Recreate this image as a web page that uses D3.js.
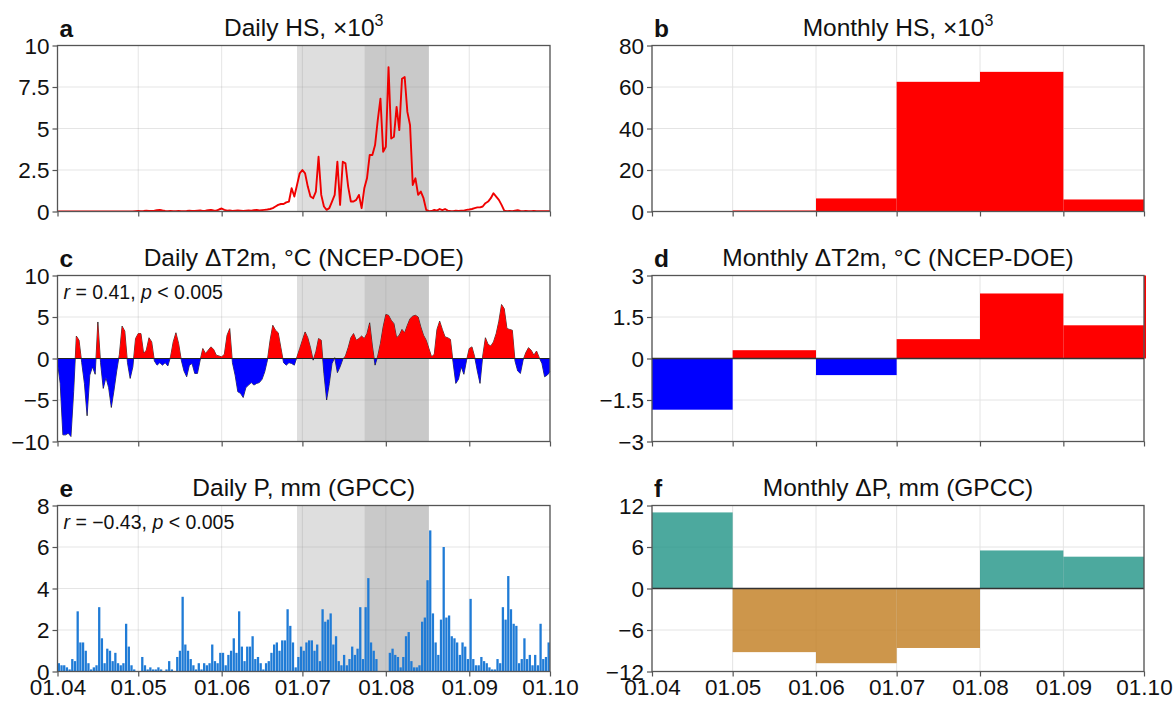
<!DOCTYPE html>
<html>
<head>
<meta charset="utf-8">
<script src="https://cdn.jsdelivr.net/npm/d3@7"></script>
<style>
  html, body { margin: 0; padding: 0; background: #fff; }
  svg { display: block; font-family: "Liberation Sans", Arial, Helvetica, sans-serif; }
</style>
</head>
<body>
<svg id="chart" width="1174" height="702"></svg>
<script>
// ---------------- DATA ----------------
const monthStarts = ["2021-04-01","2021-05-01","2021-06-01","2021-07-01","2021-08-01","2021-09-01","2021-10-01","2021-11-01"];
const monthTickLabels = ["01.04","01.05","01.06","01.07","01.08","01.09","01.10"];
const dailyStart = "2021-04-01";
const shadeLight = ["2021-06-29","2021-07-24"];
const shadeDark = ["2021-07-24","2021-08-17"];

// Daily HS (x10^3), from 1 Apr
const dailyHS = [
 0,0,0,0,0,0,0,0,0,0,
 0,0,0,0,0,0,0,0,0,0,
 0,0,0,0,0,0,0,0,0,0.02,
 0.03,0.02,0.03,0.05,0.04,0.03,0.05,0.08,0.1,0.06,
 0.03,0.02,0.03,0.02,0.02,0.03,0.02,0.02,0.03,0.05,
 0.04,0.03,0.05,0.06,0.04,0.05,0.08,0.1,0.06,0.05,
 0.12,0.18,0.1,0.05,0.06,0.04,0.05,0.06,0.05,0.04,
 0.05,0.06,0.05,0.08,0.1,0.06,0.08,0.1,0.12,0.15,
 0.2,0.3,0.4,0.45,0.45,0.55,0.6,1.4,0.9,1.6,
 2.3,2.5,2.3,1.5,0.9,0.8,1.2,3.3,1.0,0.3,
 0.1,0.2,0.6,1.0,3.0,0.4,3.0,2.9,1.5,0.6,
 0.6,0.7,1.0,0.2,1.4,2.0,3.4,3.4,4.0,5.5,
 6.8,3.6,3.9,8.7,4.4,4.5,6.3,4.9,8.0,8.1,
 6.0,5.2,1.6,2.0,1.0,1.2,0.8,0.1,0.02,0.03,
 0.1,0.05,0.15,0.08,0.15,0.05,0.03,0.02,0.05,0.03,
 0.05,0.05,0.1,0.12,0.15,0.2,0.25,0.25,0.3,0.5,
 0.6,0.8,1.1,0.9,0.7,0.4,0.05,0.02,0.03,0.02,
 0.05,0.08,0.04,0.02,0.03,0.02,0.02,0.03,0.02,0.02,
 0.02,0.02,0.02,0.02
];

// Daily ΔT2m, °C
const dailyT = [
 -0.5,-3,-9.2,-9.2,-9.0,-9.4,-4,2.7,2.2,-0.5,
 -3,-6.9,-2,-1.0,-1.9,4.4,-0.5,-3.6,-2.3,-3.5,
 -5.9,-3.8,-1.5,0.5,3.9,3.3,-0.5,-2.4,-1.0,2.4,
 3.0,3.0,0.6,1.0,2.5,2.0,-0.3,-0.8,-0.5,-0.8,
 -0.5,-0.9,0.2,2.0,3.1,1.8,-0.2,-1.5,-2.2,-0.8,
 -0.6,-1.8,-1.8,-0.2,1.2,0.6,1.0,1.4,1.1,0.4,
 0.3,0.2,0.5,2.8,3.6,-0.5,-2.0,-4.0,-4.2,-4.7,
 -3.5,-3.2,-2.9,-3.2,-3.0,-2.9,-2.5,-1.6,-0.2,2.2,
 4.0,3.4,3.1,1.3,-0.5,-0.8,-0.5,-0.6,-0.8,0.2,
 1.2,2.2,3.2,2.5,1.3,-0.2,0.8,2.4,2.2,-1.8,
 -5.0,-3.0,-0.6,0.1,-1.7,-1.0,-0.1,0.3,1.3,2.5,
 3.0,2.2,2.4,2.7,2.4,3.0,4.3,1.5,-0.8,0.3,
 1.8,3.8,5.3,5.2,4.6,4.2,2.5,2.8,3.5,3.1,
 4.0,4.8,5.1,5.2,5.0,3.8,2.8,2.2,1.2,0.2,
 0.5,3.5,4.5,3.5,2.6,2.5,2.3,-0.5,-3.0,-2.5,
 -1.0,-1.9,-0.2,1.2,1.4,0.2,-1.5,-3.0,0.3,2.5,
 1.7,1.5,2.0,3.0,4.5,6.5,6.0,3.6,3.5,3.4,
 -0.3,-1.5,-1.8,-0.2,0.7,1.3,1.0,0.4,0.9,0.1,
 -0.6,-2.2,-2.0,-1.6
];

// Daily P, mm
const dailyP = [
 0.4,0.3,0.3,0.2,0.1,0.6,0.5,2.9,1.4,1.4,
 1.0,0.4,0.1,0.2,0.3,3.1,1.6,0.4,1.1,1.0,
 0.5,0.9,0.4,0.3,0.4,2.3,1.2,0.3,0.1,0.0,
 0.0,0.7,0.3,0.1,0.2,0.1,0.1,0.2,0.1,0.0,
 0.1,0.5,0.1,0.0,0.7,1.0,3.6,1.3,1.0,0.6,
 0.3,0.1,0.4,0.1,0.4,0.3,0.4,1.3,0.5,0.4,
 0.9,0.9,0.3,0.8,1.0,1.6,0.9,2.9,1.2,0.5,
 1.2,1.2,1.7,0.6,0.7,0.4,0.1,0.4,0.5,0.9,
 1.3,1.4,1.0,1.5,1.5,3.0,2.2,1.4,0.2,0.7,
 1.2,1.0,1.4,1.5,1.5,1.0,1.3,0.5,3.0,2.4,
 2.5,2.8,1.3,1.7,0.5,0.3,0.8,0.3,0.6,1.2,
 0.8,1.1,3.1,0.6,3.1,4.5,1.4,1.0,0.6,0.0,
 0.0,0.0,0.0,0.9,1.1,0.8,0.7,0.2,0.7,1.7,
 1.9,0.5,0.2,0.2,0.3,2.4,2.6,4.4,6.8,2.8,
 1.4,0.8,2.5,6.0,2.6,2.7,1.7,1.6,1.4,0.8,
 1.4,1.2,0.6,3.5,0.6,0.3,0.3,0.7,0.5,0.4,
 0.2,0.1,0.1,0.6,0.4,3.1,2.5,4.6,3.0,2.3,
 2.2,0.4,0.6,1.6,0.6,0.8,0.3,0.8,0.3,2.3,
 0.6,0.7,1.4
];

// Monthly values (Apr..Sep; T includes an Oct value clipped at the edge)
const monthlyHS = [0, 0.5, 6.3, 62.5, 67.3, 5.8];
const monthlyT = [-1.85, 0.3, -0.6, 0.7, 2.35, 1.2, 3.5];
const monthlyP = [11.0, -9.2, -10.8, -8.6, 5.5, 4.6];

// y-axis tick values
const ticksHS = [0, 2.5, 5, 7.5, 10];
const ticksT = [-10, -5, 0, 5, 10];
const ticksP = [0, 2, 4, 6, 8];
const ticksMHS = [0, 20, 40, 60, 80];
const ticksMT = [-3, -1.5, 0, 1.5, 3];
const ticksMP = [-12, -6, 0, 6, 12];

// ---------------- LAYOUT ----------------
const svg = d3.select("#chart");
const parse = d3.utcParse("%Y-%m-%d");
const mDates = monthStarts.map(parse);
const d0 = parse(dailyStart);
const dayDate = i => d3.utcDay.offset(d0, i);

const colL = {x: 57.5, w: 492.5};
const colR = {x: 652, w: 492};
const rows = [45.5, 275.5, 505.5];
const H = 166;
const FONT_TICK = 22.5, FONT_TITLE = 24.5;
const frameColor = "#555", gridColor = "#e4e4e4";

let clipId = 0;
function makePanel(col, top, yDomain, yTicks, letter, titleFn, showXLabels, shading) {
  const g = svg.append("g");
  const x = d3.scaleUtc().domain([mDates[0], mDates[6]]).range([col.x, col.x + col.w]);
  const y = d3.scaleLinear().domain(yDomain).range([top + H, top]);
  const id = "clip" + (clipId++);
  svg.append("clipPath").attr("id", id).append("rect")
    .attr("x", col.x).attr("y", top).attr("width", col.w + 2).attr("height", H);

  if (shading) {
    g.append("rect").attr("x", x(parse(shadeLight[0]))).attr("y", top)
      .attr("width", x(parse(shadeLight[1])) - x(parse(shadeLight[0]))).attr("height", H)
      .attr("fill", "#dedede");
    g.append("rect").attr("x", x(parse(shadeDark[0]))).attr("y", top)
      .attr("width", x(parse(shadeDark[1])) - x(parse(shadeDark[0]))).attr("height", H)
      .attr("fill", "#c9c9c9");
  }
  const grid = g.append("g").attr("stroke", gridColor).attr("stroke-width", 1);
  yTicks.forEach(t => grid.append("line").attr("x1", col.x).attr("x2", col.x + col.w)
    .attr("y1", y(t)).attr("y2", y(t)));
  mDates.slice(0, 7).forEach(d => grid.append("line").attr("x1", x(d)).attr("x2", x(d))
    .attr("y1", top).attr("y2", top + H));
  if (shading) grid.selectAll("line").attr("stroke", "rgba(150,150,150,0.25)");

  const content = g.append("g").attr("clip-path", `url(#${id})`);

  const fmt = v => String(v).replace("-", "\u2212");
  const ya = g.append("g").attr("transform", `translate(${col.x},0)`)
    .call(d3.axisLeft(y).tickValues(yTicks).tickSize(5).tickPadding(3).tickFormat(fmt));
  const xa = g.append("g").attr("transform", `translate(0,${top + H})`)
    .call(d3.axisBottom(x).tickValues(mDates.slice(0, 7)).tickSize(5).tickPadding(3)
      .tickFormat((d, i) => showXLabels ? monthTickLabels[i] : ""));
  [ya, xa].forEach(a => {
    a.select(".domain").remove();
    a.selectAll("line").attr("stroke", frameColor).attr("stroke-width", 1.2);
    a.selectAll("text").attr("font-size", FONT_TICK).attr("fill", "#111")
      .attr("font-family", "'Liberation Sans', Arial, sans-serif");
  });
  ya.selectAll("text").attr("dy", "0.35em");

  const cx = col.x + col.w / 2;
  const tt = g.append("text").attr("x", cx).attr("y", top - 9.5).attr("text-anchor", "middle")
    .attr("font-size", FONT_TITLE).attr("fill", "#111");
  titleFn(tt);
  g.append("text").attr("x", col.x + 2).attr("y", top - 9).attr("font-size", FONT_TITLE)
    .attr("font-weight", "bold").attr("fill", "#111").text(letter);

  const frame = () => g.append("rect").attr("x", col.x).attr("y", top).attr("width", col.w).attr("height", H)
    .attr("fill", "none").attr("stroke", frameColor).attr("stroke-width", 1.3);
  return {g, x, y, content, frame, top, col};
}

function sup(t, base, s) {
  t.append("tspan").text(base);
  t.append("tspan").attr("font-size", 16).attr("dy", -10).text(s);
}
function stat(p, r, pv) {
  const t = p.g.append("text").attr("x", p.col.x + 6).attr("y", p.top + 23)
    .attr("font-size", 19.5).attr("fill", "#111");
  t.append("tspan").attr("font-style", "italic").text("r");
  t.append("tspan").text(" = " + r + ", ");
  t.append("tspan").attr("font-style", "italic").text("p");
  t.append("tspan").text(" < " + pv);
}

// ---- a: Daily HS ----
{
  const p = makePanel(colL, rows[0], [0, 10], ticksHS, "a", t => sup(t, "Daily HS, \u00d710", "3"), false, true);
  p.content.append("path").datum(dailyHS)
    .attr("d", d3.line().x((d, i) => p.x(dayDate(i))).y(d => p.y(d)))
    .attr("fill", "none").attr("stroke", "#f00000").attr("stroke-width", 1.9).attr("stroke-linejoin", "round");
  p.frame();
}
// ---- b: Monthly HS ----
{
  const p = makePanel(colR, rows[0], [0, 80], ticksMHS, "b", t => sup(t, "Monthly HS, \u00d710", "3"), false, false);
  p.content.selectAll("rect.bar").data(monthlyHS).join("rect")
    .attr("x", (d, i) => p.x(mDates[i])).attr("width", (d, i) => p.x(mDates[i + 1]) - p.x(mDates[i]))
    .attr("y", d => p.y(d)).attr("height", d => p.y(0) - p.y(d)).attr("fill", "#ff0000");
  p.frame();
}
// ---- c: Daily ΔT ----
{
  const p = makePanel(colL, rows[1], [-10, 10], ticksT, "c", t => t.text("Daily \u0394T2m, \u00b0C (NCEP-DOE)"), false, true);
  const area = d3.area().x((d, i) => p.x(dayDate(i))).y0(p.y(0)).y1(d => p.y(d));
  const line = d3.line().x((d, i) => p.x(dayDate(i))).y(d => p.y(d));
  svg.append("clipPath").attr("id", "cpos").append("rect")
    .attr("x", colL.x).attr("y", rows[1]).attr("width", colL.w).attr("height", p.y(0) - rows[1]);
  svg.append("clipPath").attr("id", "cneg").append("rect")
    .attr("x", colL.x).attr("y", p.y(0)).attr("width", colL.w).attr("height", rows[1] + H - p.y(0));
  p.g.append("path").datum(dailyT).attr("d", area).attr("fill", "#ff0000").attr("clip-path", "url(#cpos)");
  p.g.append("path").datum(dailyT).attr("d", area).attr("fill", "#0000ff").attr("clip-path", "url(#cneg)");
  p.content.append("path").datum(dailyT).attr("d", line).attr("fill", "none").attr("stroke", "#111").attr("stroke-width", 0.8);
  p.g.append("line").attr("x1", colL.x).attr("x2", colL.x + colL.w).attr("y1", p.y(0)).attr("y2", p.y(0))
    .attr("stroke", "#222").attr("stroke-width", 1);
  stat(p, "0.41", "0.005");
  p.frame();
}
// ---- d: Monthly ΔT ----
{
  const p = makePanel(colR, rows[1], [-3, 3], ticksMT, "d", t => t.text("Monthly \u0394T2m, \u00b0C (NCEP-DOE)"), false, false);
  p.frame();
  p.content.selectAll("rect.bar").data(monthlyT).join("rect")
    .attr("x", (d, i) => p.x(mDates[i])).attr("width", (d, i) => p.x(mDates[i + 1]) - p.x(mDates[i]))
    .attr("y", d => p.y(Math.max(0, d))).attr("height", d => Math.abs(p.y(0) - p.y(d)))
    .attr("fill", d => d >= 0 ? "#ff0000" : "#0000ff");
  p.g.append("line").attr("x1", colR.x).attr("x2", colR.x + colR.w).attr("y1", p.y(0)).attr("y2", p.y(0))
    .attr("stroke", "#333").attr("stroke-width", 1.3);
}
// ---- e: Daily P ----
{
  const p = makePanel(colL, rows[2], [0, 8], ticksP, "e", t => t.text("Daily P, mm (GPCC)"), true, true);
  p.content.selectAll("rect.bar").data(dailyP).join("rect")
    .attr("x", (d, i) => p.x(dayDate(i)) + 0.2)
    .attr("width", (d, i) => p.x(dayDate(i + 1)) - p.x(dayDate(i)) - 0.4)
    .attr("y", d => p.y(d)).attr("height", d => p.y(0) - p.y(d)).attr("fill", "#1f7bd6");
  stat(p, "\u22120.43", "0.005");
  p.frame();
}
// ---- f: Monthly ΔP ----
{
  const p = makePanel(colR, rows[2], [-12, 12], ticksMP, "f", t => t.text("Monthly \u0394P, mm (GPCC)"), true, false);
  p.content.selectAll("rect.bar").data(monthlyP).join("rect")
    .attr("x", (d, i) => p.x(mDates[i])).attr("width", (d, i) => p.x(mDates[i + 1]) - p.x(mDates[i]))
    .attr("y", d => p.y(Math.max(0, d))).attr("height", d => Math.abs(p.y(0) - p.y(d)))
    .attr("fill", d => d >= 0 ? "#1f9486" : "#c07c1e").attr("fill-opacity", 0.8);
  p.g.append("line").attr("x1", colR.x).attr("x2", colR.x + colR.w).attr("y1", p.y(0)).attr("y2", p.y(0))
    .attr("stroke", "#333").attr("stroke-width", 1.3);
  p.frame();
}
</script>
</body>
</html>
